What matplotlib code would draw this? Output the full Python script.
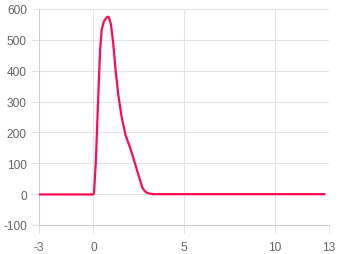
import numpy as np
import matplotlib
matplotlib.use("Agg")
import matplotlib.pyplot as plt

# values
x_vals = [-3.0, -1.5, 0.0, 0.04, 0.14, 0.22, 0.31, 0.38, 0.46, 0.58, 0.70, 0.79, 0.86,
          0.97, 1.10, 1.23, 1.37, 1.56, 1.78, 2.02, 2.30, 2.52, 2.70, 2.85, 2.94,
          3.10, 3.30, 4.0, 6.0, 9.0, 12.8]
y_vals = [-1, -1, -1, 8, 110, 239, 378, 475, 533, 560, 570, 575, 573,
          550, 486, 400, 324, 250, 190, 152, 99, 56, 21, 9, 5,
          2, 0, 0, 0, 0, 0]
x_ticks = [-3, 0, 5, 10, 13]
y_ticks = [-100, 0, 100, 200, 300, 400, 500, 600]

line_color = '#ff0a54'
grid_color = '#e4e4e4'
text_color = '#666666'

plt.rcParams['font.family'] = ['Liberation Sans', 'DejaVu Sans']

fig = plt.figure(figsize=(3.4, 2.55), dpi=100)
ax = fig.add_axes([39 / 340, 1 - 226 / 255, 290 / 340, 216 / 255])

ax.plot(x_vals, y_vals, color=line_color, linewidth=1.6,
        solid_joinstyle='round', solid_capstyle='butt', zorder=3)

ax.set_xlim(-3, 13)
ax.set_ylim(-100, 600)
ax.set_xticks(x_ticks)
ax.set_yticks(y_ticks)
ax.set_xticklabels([str(t) for t in x_ticks])
ax.set_yticklabels([str(t) for t in y_ticks])

ax.grid(True, color=grid_color, linewidth=0.75, zorder=0)
for side in ['top', 'right']:
    ax.spines[side].set_visible(False)
for side in ['left', 'bottom']:
    ax.spines[side].set_color('#cfcfcf')
    ax.spines[side].set_linewidth(0.75)

ax.tick_params(axis='both', length=5.8, width=0.75, color=grid_color,
               labelcolor=text_color, labelsize=8.6, pad=3)
ax.tick_params(axis='x', pad=5.5)

fig.savefig('out.png', dpi=100)
